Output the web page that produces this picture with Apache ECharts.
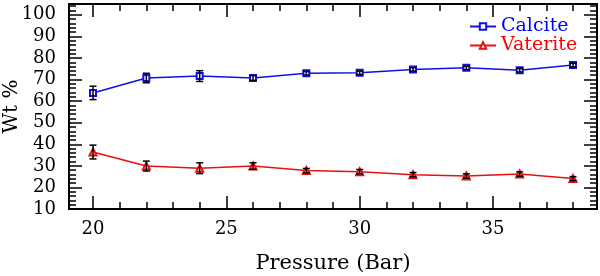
<!DOCTYPE html>
<html>
<head>
<meta charset="utf-8">
<script src="https://cdn.jsdelivr.net/npm/echarts@6/dist/echarts.min.js"></script>
<style>
html,body{margin:0;padding:0;background:#fff;}
#chart{width:600px;height:276px;}
</style>
</head>
<body>
<div id="chart"></div>
<script>
var pressure = [20, 22, 24, 26, 28, 30, 32, 34, 36, 38];
var calcite  = [63.8, 70.7, 71.6, 70.7, 72.9, 73.1, 74.7, 75.4, 74.3, 76.7];
var calciteErr = [3.1, 2.2, 2.5, 1.1, 0.8, 0.8, 0.8, 0.8, 0.8, 0.8];
var vaterite = [36.4, 29.9, 28.9, 29.9, 27.8, 27.3, 25.9, 25.3, 26.2, 24.1];
var vateriteErr = [3.2, 2.3, 2.5, 1.5, 1.0, 1.0, 1.0, 1.0, 1.0, 0.9];

var FONT = 'DejaVu Serif';
var BLUE = '#1010e0', RED = '#e81010';
var chart = echarts.init(document.getElementById('chart'));

function pairs(xs, ys) { return xs.map(function (x, i) { return [x, ys[i]]; }); }
function errData(xs, ys, es) { return xs.map(function (x, i) { return [x, ys[i] - es[i], ys[i] + es[i]]; }); }

function errorRender(params, api) {
  var x = api.value(0);
  var lo = api.coord([x, api.value(1)]);
  var hi = api.coord([x, api.value(2)]);
  var hw = 3.5;
  var style = { stroke: '#000', lineWidth: 1.5, fill: null };
  return {
    type: 'group',
    children: [
      { type: 'line', shape: { x1: lo[0], y1: lo[1], x2: hi[0], y2: hi[1] }, style: style },
      { type: 'line', shape: { x1: lo[0] - hw, y1: lo[1], x2: lo[0] + hw, y2: lo[1] }, style: style },
      { type: 'line', shape: { x1: hi[0] - hw, y1: hi[1], x2: hi[0] + hw, y2: hi[1] }, style: style }
    ]
  };
}

var XMIN = 19.1, XMAX = 38.9, YMIN = 10, YMAX = 105;
var lineBlack = { color: '#000', width: 2 };

function xAx(pos, major, withLabel) {
  var a = {
    type: 'value', position: pos, min: XMIN, max: XMAX,
    splitNumber: major ? 4 : 20,
    axisLine: { show: major, lineStyle: lineBlack },
    axisTick: { show: true, inside: true, length: major ? 13 : 7, lineStyle: { color: '#000', width: 1.5 } },
    axisLabel: { show: false },
    splitLine: { show: false }
  };
  if (withLabel) {
    a.axisLabel = {
      show: true, color: '#000', fontFamily: FONT, fontSize: 18, margin: 11,
      formatter: function (v) { return (Math.abs(v - Math.round(v)) < 1e-6 && Math.round(v) % 5 === 0) ? String(Math.round(v)) : ''; }
    };
    a.name = 'Pressure (Bar)';
    a.nameLocation = 'middle';
    a.nameGap = 44;
    a.nameMoveOverlap = false;
    a.nameTextStyle = { color: '#000', fontFamily: FONT, fontSize: 21 };
  }
  return a;
}
function yAx(pos, major, withLabel) {
  var a = {
    type: 'value', position: pos, min: YMIN, max: YMAX,
    interval: major ? 10 : 2,
    axisLine: { show: major, lineStyle: lineBlack },
    axisTick: { show: true, inside: true, length: major ? 13 : 7, lineStyle: { color: '#000', width: 1.5 } },
    axisLabel: { show: false },
    splitLine: { show: false }
  };
  if (withLabel) {
    a.axisLabel = {
      show: true, color: '#000', fontFamily: FONT, fontSize: 18, margin: 13,
      formatter: function (v) { return (v % 10 === 0 && v <= 100) ? String(v) : ''; }
    };
    a.name = 'Wt %';
    a.nameLocation = 'middle';
    a.nameGap = 47;
    a.nameMoveOverlap = false;
    a.nameTextStyle = { color: '#000', fontFamily: FONT, fontSize: 20 };
  }
  return a;
}

var option = {
  backgroundColor: '#fff',
  animation: false,
  grid: { left: 69, right: 3, top: 4, bottom: 67, containLabel: false, outerBoundsMode: 'none' },
  legend: {
    orient: 'vertical', left: 469, top: 17, itemWidth: 26, itemHeight: 8, itemGap: 0,
    padding: 0,
    textStyle: { fontFamily: FONT, fontSize: 19 },
    data: [
      { name: 'Calcite', textStyle: { color: '#0000ff' } },
      { name: 'Vaterite', textStyle: { color: '#ff0000' } }
    ]
  },
  xAxis: [xAx('bottom', true, true), xAx('bottom', false, false), xAx('top', true, false), xAx('top', false, false)],
  yAxis: [yAx('left', true, true), yAx('left', false, false), yAx('right', true, false), yAx('right', false, false)],
  series: [
    {
      name: 'Calcite', type: 'line', data: pairs(pressure, calcite),
      xAxisIndex: 0, yAxisIndex: 0,
      symbol: 'emptyRect', symbolSize: 6, showSymbol: true,
      lineStyle: { color: BLUE, width: 1.5 },
      itemStyle: { color: BLUE, borderColor: BLUE, borderWidth: 1.3 },
      z: 3
    },
    {
      name: 'Vaterite', type: 'line', data: pairs(pressure, vaterite),
      xAxisIndex: 0, yAxisIndex: 0,
      symbol: 'emptyTriangle', symbolSize: 7, showSymbol: true,
      lineStyle: { color: RED, width: 1.5 },
      itemStyle: { color: RED, borderColor: RED, borderWidth: 1.3 },
      z: 3
    },
    {
      type: 'custom', name: 'calcErr', xAxisIndex: 0, yAxisIndex: 0,
      data: errData(pressure, calcite, calciteErr), renderItem: errorRender, z: 4, silent: true
    },
    {
      type: 'custom', name: 'vatErr', xAxisIndex: 0, yAxisIndex: 0,
      data: errData(pressure, vaterite, vateriteErr), renderItem: errorRender, z: 4, silent: true
    }
  ]
};
chart.setOption(option);
</script>
</body>
</html>
